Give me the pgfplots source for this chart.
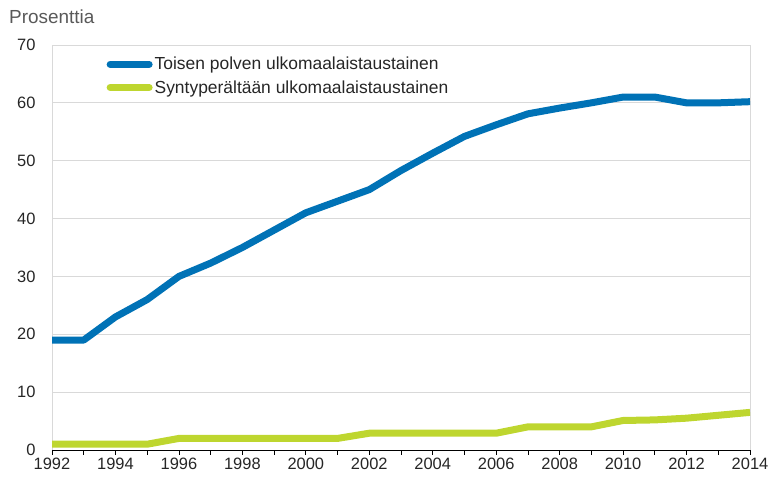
\documentclass[border=0pt]{standalone}
\usepackage{fontspec}
\setmainfont{Liberation Sans}
\usepackage{pgfplots}
\pgfplotsset{compat=1.18}
\definecolor{bluel}{RGB}{0,114,182}
\definecolor{greenl}{RGB}{190,214,47}
\definecolor{gridc}{RGB}{217,217,217}
\definecolor{txt}{RGB}{38,38,38}
\begin{document}
\begin{tikzpicture}[x=1bp,y=1bp]
\useasboundingbox (0,0) rectangle (771,477);
\node[anchor=west, text=black!65, font=\fontsize{19}{22}\selectfont, inner sep=0pt] at (9,460) {Prosenttia};
\begin{axis}[
  at={(52bp,27bp)}, anchor=south west,
  scale only axis, width=698bp, height=405bp,
  xmin=1992, xmax=2014, ymin=0, ymax=70,
  axis x line*=bottom, axis y line*=box,
  x axis line style={black, line width=0.8bp},
  y axis line style={gridc, line width=0.8bp},
  xtick={1992,1994,...,2014},
  minor xtick={1993,1995,...,2013},
  xticklabel style={/pgf/number format/1000 sep={}},
  major tick length=5bp, minor tick length=5bp,
  tick align=outside,
  x tick style={black, line width=0.8bp},
  ytick={0,10,...,70},
  ytick style={draw=none},
  ymajorgrids, grid style={gridc, line width=0.8bp},
  yticklabel style={xshift=-8bp},
  /pgf/number format/assume math mode=true,
  tick label style={font=\fontsize{16.5}{19}\selectfont, text=txt},
  legend cell align=left,
  legend style={at={(rel axis cs:0.078,0.975)}, anchor=north west, draw=none, fill=none,
    font=\fontsize{17.5}{20}\selectfont, text=txt, row sep=5bp, inner sep=0pt,
    nodes={inner xsep=2bp}},
  legend image code/.code={\draw[#1, line width=7bp, line cap=round] (0bp,0bp) -- (39bp,0bp);},
]
\addplot[bluel, line width=7bp, line join=round] coordinates {
(1992,19) (1993,19) (1994,23) (1995,26) (1996,30) (1997,32.3) (1998,35) (1999,38) (2000,41)
(2001,43) (2002,45) (2003,48.3) (2004,51.3) (2005,54.2) (2006,56.2) (2007,58.1) (2008,59.1)
(2009,60) (2010,61) (2011,61) (2012,60) (2013,60) (2014,60.2)};
\addlegendentry{Toisen polven ulkomaalaistaustainen}
\addplot[greenl, line width=7bp, line join=round] coordinates {
(1992,1) (1993,1) (1994,1) (1995,1) (1996,2) (1997,2) (1998,2) (1999,2) (2000,2)
(2001,2) (2002,2.9) (2003,2.9) (2004,2.9) (2005,2.9) (2006,2.9) (2007,4) (2008,4)
(2009,4) (2010,5.1) (2011,5.2) (2012,5.5) (2013,6) (2014,6.5)};
\addlegendentry{Syntyperältään ulkomaalaistaustainen}
\end{axis}
\end{tikzpicture}
\end{document}
